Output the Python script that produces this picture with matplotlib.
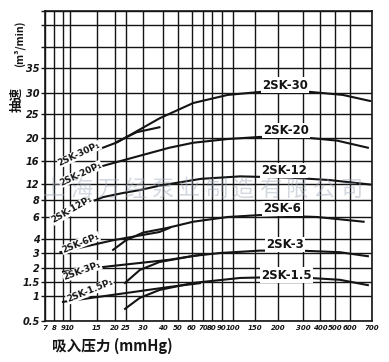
import numpy as np
import matplotlib.pyplot as plt

# --- hand drawn log paper: tick values and where they sit on the sheet (px) ---
x_ticks = [7, 8, 9, 10, 15, 20, 25, 30, 40, 50, 60, 70, 80, 90, 100, 150, 200, 300, 400, 500, 600, 700]
x_pos = [0, 9, 18, 25, 52, 70, 81, 98, 118, 133, 147, 158, 167, 177, 188, 210, 233, 258, 275, 290, 305, 327]
y_ticks = [0.5, 1, 1.5, 2, 3, 4, 6, 8, 12, 16, 20, 25, 30, 35, 40, 50, 60]
y_pos = [0, 25, 39, 53, 68, 82, 104, 121, 137, 160, 183, 207, 228, 253, 274, 296, 310]
y_labels = ["0.5", "1", "1.5", "2", "3", "4", "6", "8", "12", "16", "20", "25", "30", "35", "", "", ""]

# --- pump curves (suction pressure mmHg -> pumping speed m3/min) ---
sk30_x = [9.7, 21, 38, 61, 95, 160, 340, 550, 690]
sk30_y = [16, 19.2, 24, 27.5, 29.5, 30.2, 30.2, 29.5, 28]
sk30b_x = [21, 28, 38]
sk30b_y = [19.3, 21.1, 22.1]

sk20_x = [11.3, 23.5, 44, 61, 95, 160, 337, 513, 680]
sk20_y = [13.8, 16.1, 18.2, 19.1, 19.8, 20.2, 20.0, 19.5, 18.2]

sk12_x = [12.2, 16.5, 23.5, 29, 38, 68, 114, 243, 464, 690]
sk12_y = [7.35, 8.6, 9.55, 10.3, 11.5, 12.8, 13.2, 13.0, 12.6, 11.85]

sk6_x = [19.4, 25, 30, 42.5, 61, 95, 160, 380, 660]
sk6_y = [3.2, 3.9, 4.5, 4.9, 5.5, 6.0, 6.2, 6.0, 5.5]
sk6p_x = [8.7, 19.4, 38, 44]
sk6p_y = [3.05, 3.9, 4.55, 4.9]

sk3_x = [24.5, 29, 38, 61, 88, 160, 286, 530, 680]
sk3_y = [1.46, 1.92, 2.35, 2.77, 3.0, 3.15, 3.15, 3.05, 2.75]
sk3p_x = [9, 18.5, 44, 67]
sk3p_y = [1.85, 2.1, 2.5, 2.85]

sk15_x = [24.5, 29, 38, 61, 114, 243, 530, 680]
sk15_y = [0.70, 0.95, 1.19, 1.46, 1.63, 1.67, 1.57, 1.37]
sk15p_x = [9, 44, 67]
sk15p_y = [0.85, 1.30, 1.45]

watermark = "上海万经泵业制造有限公司"


def make_scale(ticks, pos):
    lt = np.log10(ticks)
    def fwd(v):
        v = np.clip(np.asarray(v, dtype=float), 1e-6, None)
        return np.interp(np.log10(v), lt, pos)
    def inv(p):
        return 10 ** np.interp(np.asarray(p, dtype=float), pos, lt)
    return fwd, inv


ink = "#141414"
fig = plt.figure(figsize=(3.89, 3.62), dpi=100)
ax = fig.add_axes([45 / 389, 1 - 321 / 362, 327 / 389, 310 / 362])
ax.set_xscale("function", functions=make_scale(x_ticks, x_pos))
ax.set_yscale("function", functions=make_scale(y_ticks, y_pos))
ax.set_xlim(7, 700)
ax.set_ylim(0.5, 60)

ax.set_xticks(x_ticks)
ax.set_xticklabels([str(t) for t in x_ticks])
ax.set_yticks(y_ticks)
ax.set_yticklabels(y_labels)
ax.minorticks_off()
ax.tick_params(axis="x", length=0, pad=3, labelsize=5.0, colors=ink)
ax.tick_params(axis="y", length=3, width=1, pad=1, labelsize=7, colors=ink)
for lab in ax.get_xticklabels() + ax.get_yticklabels():
    lab.set_fontweight("bold")
    lab.set_fontstyle("italic")
ax.grid(True, color=ink, linewidth=1.0)
for s in ax.spines.values():
    s.set_color(ink)
    s.set_linewidth(1.2)

# curves
curves = [(sk30_x, sk30_y), (sk30b_x, sk30b_y), (sk20_x, sk20_y), (sk12_x, sk12_y),
          (sk6_x, sk6_y), (sk6p_x, sk6p_y), (sk3_x, sk3_y), (sk3p_x, sk3p_y),
          (sk15_x, sk15_y), (sk15p_x, sk15p_y)]
for cx, cy in curves:
    ax.plot(cx, cy, color=ink, linewidth=1.5, zorder=3)

# model names on the right
names = [("2SK-30", 225, 31.5), ("2SK-20", 228, 21.5), ("2SK-12", 220, 14.2),
         ("2SK-6", 215, 6.9), ("2SK-3", 224, 3.55), ("2SK-1.5", 228, 1.73)]
for txt, tx, ty in names:
    ax.text(tx, ty, txt, ha="center", va="center", fontsize=8.5, fontweight="bold",
            color=ink, zorder=4,
            bbox=dict(boxstyle="square,pad=0.1", fc="white", ec="none"))

# P1 names along the lines at the left
p1_names = [("2SK-30P₁", 11.5, 17.1, 25), ("2SK-20P₁", 11.7, 13.6, 25),
            ("2SK-12P₁", 10.3, 6.77, 30), ("2SK-6P₁", 11.7, 3.68, 22),
            ("2SK-3P₁", 12, 1.88, 20), ("2SK-1.5P₁", 13.5, 1.16, 22)]
for txt, tx, ty, rot in p1_names:
    ax.text(tx, ty, txt, ha="center", va="center", rotation=rot, fontsize=6.5,
            fontweight="bold", color=ink, zorder=4,
            bbox=dict(boxstyle="square,pad=0.05", fc="white", ec="none"))

cjk = ["Noto Sans CJK SC", "DejaVu Sans"]
fig.text(17 / 389, 1 - 99 / 362, "抽速", rotation=90, ha="center", va="center",
         fontsize=9, fontweight="bold", family=cjk, color=ink)
fig.text(19 / 389, 1 - 44 / 362, "(m³/min)", rotation=90, ha="center", va="center",
         fontsize=7.5, fontweight="bold", family=cjk, color=ink)
fig.text(112 / 389, 1 - 346 / 362, "吸入压力 (mmHg)", ha="center", va="center",
         fontsize=10.5, fontweight="bold", family=cjk, color=ink)

# faint watermark over the middle, one glyph at a time so it spreads wide
for i, ch in enumerate(watermark):
    fig.text((54 + 27 * i) / 389, 1 - 189 / 362, ch, ha="center", va="center",
             fontsize=16, family=cjk, color="#9ea8b8", alpha=0.45, zorder=10)

fig.savefig("out.png", dpi=100)
